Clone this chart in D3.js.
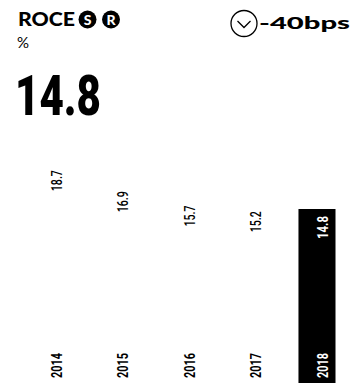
<!DOCTYPE html>
<html>
<head>
<meta charset="utf-8">
<script src="https://cdn.jsdelivr.net/npm/d3@7"></script>
<style>
  html, body { margin: 0; padding: 0; background: #fff; }
  svg { display: block; }
  .narrow { font-family: "Roboto", "Liberation Sans", sans-serif; }
</style>
</head>
<body>
<svg id="chart" width="353" height="383"></svg>
<script>
// ROCE by year (%)
const years = ["2014", "2015", "2016", "2017", "2018"];
const roce = [18.7, 16.9, 15.7, 15.2, 14.8];
const valueLabels = ["18.7", "16.9", "15.7", "15.2", "14.8"];
const current = "2018";
const headline = "14.8";
const change = "-40bps";

const W = 353, H = 383;
const svg = d3.select("#chart");

// header
svg.append("text")
  .attr("x", 18).attr("y", 26)
  .attr("font-family", "Lato, sans-serif")
  .attr("font-weight", 900)
  .attr("font-size", 18)
  .attr("textLength", 57)
  .attr("lengthAdjust", "spacingAndGlyphs")
  .attr("fill", "#000")
  .text("ROCE");

[["S", 87.5], ["R", 111]].forEach(([ch, cx]) => {
  svg.append("circle").attr("cx", cx).attr("cy", 19.5).attr("r", 9).attr("fill", "#000");
  svg.append("text")
    .attr("x", cx).attr("y", 24.5)
    .attr("text-anchor", "middle")
    .attr("font-family", "Lato, sans-serif")
    .attr("font-weight", 900)
    .attr("font-size", 14)
    .attr("fill", "#fff")
    .text(ch);
});

svg.append("text")
  .attr("x", 17).attr("y", 47.5)
  .attr("font-family", "Lato, sans-serif")
  .attr("font-size", 15)
  .attr("fill", "#000")
  .text("%");

// change indicator
svg.append("circle")
  .attr("cx", 244).attr("cy", 23.5).attr("r", 13)
  .attr("fill", "none").attr("stroke", "#000").attr("stroke-width", 1.3);
svg.append("path")
  .attr("d", "M237.5,21 L244,27.5 L250.5,21")
  .attr("fill", "none").attr("stroke", "#000").attr("stroke-width", 1.3);
svg.append("text")
  .attr("x", 259).attr("y", 29)
  .attr("font-family", "Lato, sans-serif")
  .attr("font-weight", 900)
  .attr("font-size", 16)
  .attr("textLength", 91)
  .attr("lengthAdjust", "spacingAndGlyphs")
  .attr("fill", "#000")
  .text(change);

// headline value
svg.append("text")
  .attr("class", "narrow")
  .attr("x", 15).attr("y", 115)
  .attr("font-weight", 900)
  .attr("font-size", 56)
  .attr("textLength", 86)
  .attr("lengthAdjust", "spacingAndGlyphs")
  .attr("fill", "#000")
  .text(headline);

// bars
const x = d3.scaleBand().domain(years).range([33, 335.5]).paddingInner(0.442).paddingOuter(0);
const y = d3.scaleLinear().domain([0, 14.8]).range([383, 209]);

const data = years.map((yr, i) => ({ year: yr, value: roce[i], label: valueLabels[i] }));

const g = svg.append("g");
g.selectAll("rect").data(data).join("rect")
  .attr("x", d => x(d.year))
  .attr("y", d => y(d.value))
  .attr("width", x.bandwidth())
  .attr("height", d => y(0) - y(d.value))
  .attr("fill", d => d.year === current ? "#000" : "#fff");

// value labels, rotated, just inside the bar top
g.selectAll("text.val").data(data).join("text")
  .attr("class", "val narrow")
  .attr("transform", d => `translate(${x(d.year) + x.bandwidth() - 8},${y(d.value) + 7}) rotate(-90)`)
  .attr("text-anchor", "end")
  .attr("font-size", 14.5)
  .attr("font-weight", d => d.year === current ? "bold" : 500)
  .attr("textLength", d => d.year === current ? 23 : 21)
  .attr("lengthAdjust", "spacingAndGlyphs")
  .attr("fill", d => d.year === current ? "#fff" : "#000")
  .text(d => d.label);

// year labels at the base
g.selectAll("text.yr").data(data).join("text")
  .attr("class", "yr narrow")
  .attr("transform", d => `translate(${x(d.year) + x.bandwidth() - 8},${378}) rotate(-90)`)
  .attr("text-anchor", "start")
  .attr("font-size", 14.5)
  .attr("font-weight", "bold")
  .attr("textLength", 25)
  .attr("lengthAdjust", "spacingAndGlyphs")
  .attr("fill", d => d.year === current ? "#fff" : "#000")
  .text(d => d.year);
</script>
</body>
</html>
